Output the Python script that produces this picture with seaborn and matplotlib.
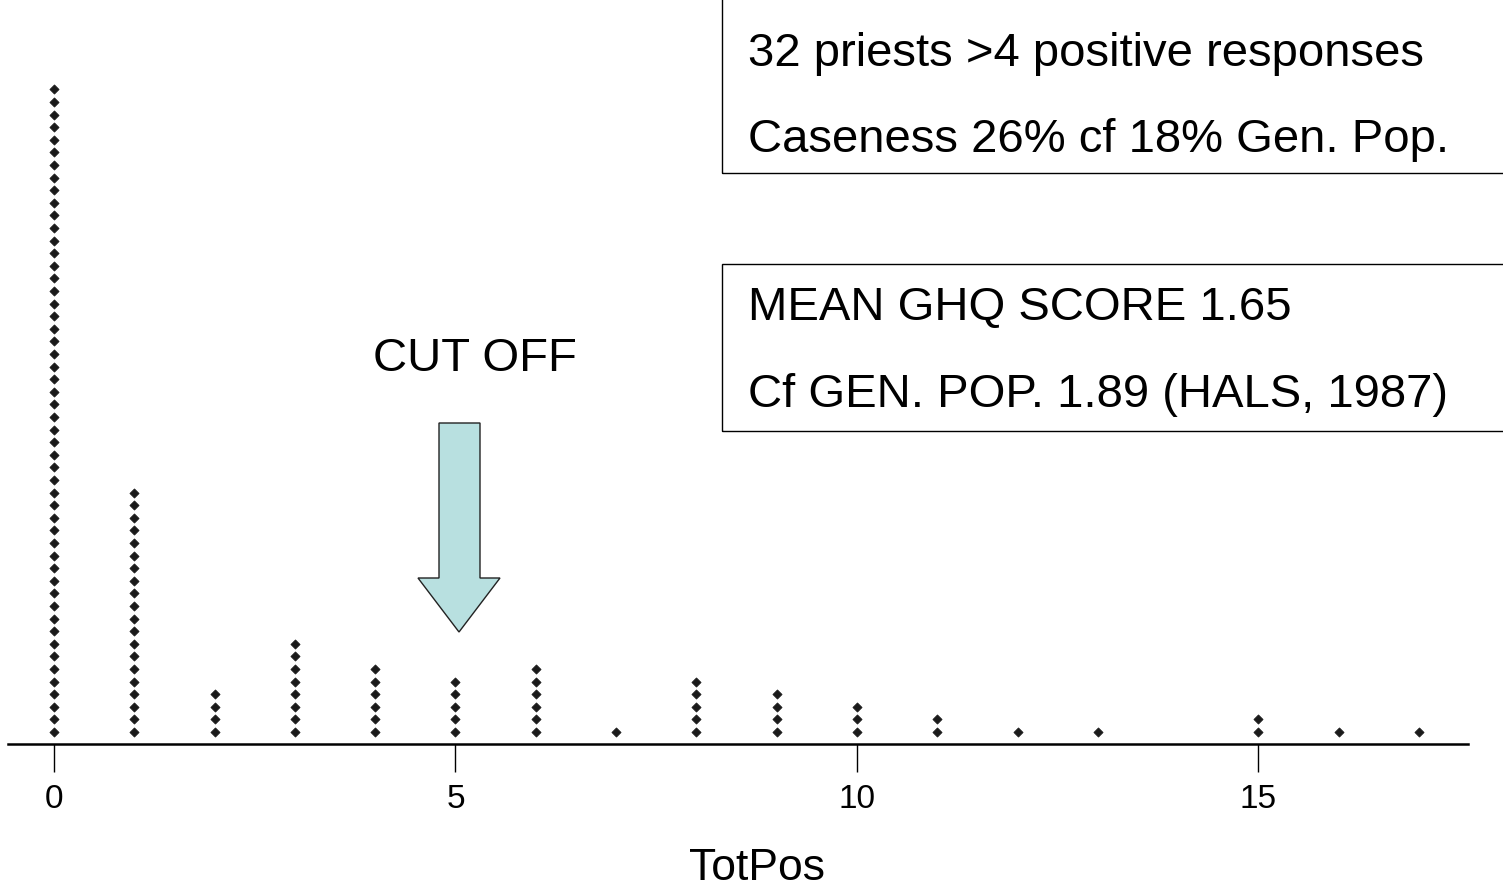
import seaborn as sns
import matplotlib.pyplot as plt
import matplotlib.patches as mpatches
import numpy as np
import pandas as pd

# dot counts per TotPos score
scores = [0, 1, 2, 3, 4, 5, 6, 7, 8, 9, 10, 11, 12, 13, 14, 15, 16, 17]
counts = [52, 20, 4, 8, 6, 5, 6, 1, 5, 4, 3, 2, 1, 1, 0, 2, 1, 1]
xticks = [0, 5, 10, 15]

box1_lines = ["32 priests >4 positive responses", "Caseness 26% cf 18% Gen. Pop."]
box2_lines = ["MEAN GHQ SCORE 1.65", "Cf GEN. POP. 1.89 (HALS, 1987)"]
cut_label = "CUT OFF"

# one row per dot, stacked upwards
rows = [(s, k + 1) for s, c in zip(scores, counts) for k in range(c)]
df = pd.DataFrame(rows, columns=["TotPos", "level"])

sns.set_style("white")
plt.rcParams["font.family"] = ["Liberation Sans", "DejaVu Sans"]
plt.rcParams["text.color"] = "black"

W, H = 1503, 894
fig = plt.figure(figsize=(W / 100, H / 100), dpi=100)
ax = fig.add_axes([0, 0, 1, 1])

# pixel geometry of the reference
px_unit = 80.3      # px per score unit
x0_px = 54          # pixel of score 0
dot_gap = 12.6      # px between stacked dots
dot0_px = 894 - 732  # first dot centre, from bottom
axis_px = 894 - 744

ax.set_xlim(-x0_px / px_unit, (W - x0_px) / px_unit)
ax.set_ylim(1 - dot0_px / dot_gap, 1 + (H - dot0_px) / dot_gap)

sns.scatterplot(data=df, x="TotPos", y="level", marker="D", s=22,
                color="#1a1a1a", edgecolor="#1a1a1a", linewidth=0.5, ax=ax)

axis_y = 1 + (axis_px - dot0_px) / dot_gap
for side in ["left", "top", "right"]:
    ax.spines[side].set_visible(False)
ax.spines["bottom"].set_position(("data", axis_y))
ax.spines["bottom"].set_linewidth(1.8)
ax.spines["bottom"].set_color("black")
ax.spines["bottom"].set_bounds((8 - x0_px) / px_unit, (1468 - x0_px) / px_unit)
ax.set_xticks(xticks)
ax.set_xticklabels([str(t) for t in xticks])
ax.tick_params(axis="x", direction="out", length=20, width=1, pad=9,
               labelsize=24, bottom=True, colors="black")
ax.set_yticks([])
ax.set_xlabel("")
ax.set_ylabel("")

def fx(px):
    return px / W

def fy(py):
    return 1 - py / H

fig.text(fx(757), fy(880), "TotPos", fontsize=32, ha="center", va="baseline")

# annotation boxes (run off the right edge)
for top, bottom in [(-5, 173), (264, 431)]:
    fig.patches.append(mpatches.Rectangle((fx(722), fy(bottom)), fx(900), fy(top) - fy(bottom),
                                          transform=fig.transFigure, fill=False,
                                          edgecolor="black", linewidth=1.0))
for y, t in zip([66, 152], box1_lines):
    fig.text(fx(748), fy(y), t, fontsize=34, ha="left", va="baseline")
for y, t in zip([320, 407], box2_lines):
    fig.text(fx(748), fy(y), t, fontsize=34, ha="left", va="baseline")

fig.text(fx(475), fy(371), cut_label, fontsize=34, ha="center", va="baseline")

# block arrow pointing at the cut off
arrow_px = [(439, 423), (480, 423), (480, 578), (500, 578), (459, 632),
            (418, 578), (439, 578)]
fig.patches.append(mpatches.Polygon([(fx(x), fy(y)) for x, y in arrow_px], closed=True,
                                    transform=fig.transFigure, facecolor="#b8e0e0",
                                    edgecolor="#222222", linewidth=1.0))

fig.savefig("out.png", dpi=100)
